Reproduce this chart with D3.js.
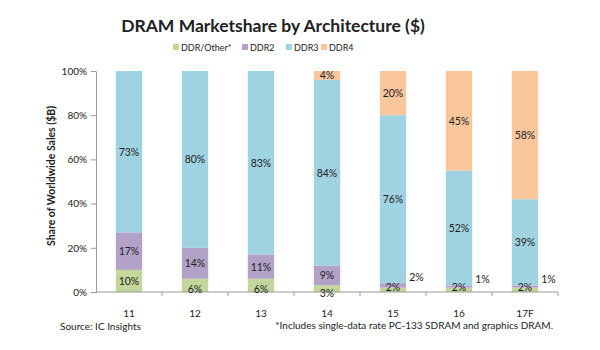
<!DOCTYPE html>
<html><head><meta charset="utf-8">
<script src="https://cdn.jsdelivr.net/npm/d3@7"></script>
<style>body{margin:0;background:#fff;} text{font-family:Lato,"Open Sans",sans-serif;fill:#222;}</style>
</head><body><svg width="600" height="350"></svg>
<script>
const categories = ["11","12","13","14","15","16","17F"];
const seriesNames = ["DDR/Other*","DDR2","DDR3","DDR4"];
const ddrOther = [10,6,6,3,2,2,2];
const ddr2 = [17,14,11,9,2,1,1];
const ddr3 = [73,80,83,84,76,52,39];
const ddr4 = [0,0,0,4,20,45,58];
const yTicks = [0,20,40,60,80,100];
const colors = ["#c3d69b","#b3a2c7","#a0d3e1","#fac79d"];

const svg = d3.select("svg");
const m = {l:96, r:42, t:71, b:58};
const W = 600, H = 350;
const x = d3.scaleBand().domain(categories).range([m.l, W-m.r]).paddingInner(0.6).paddingOuter(0.3);
const xb = d3.scaleBand().domain(categories).range([m.l, W-m.r]);
const y = d3.scaleLinear().domain([0,100]).range([H-m.b, m.t]);

const rows = categories.map((c,i)=>({cat:c, s0:ddrOther[i], s1:ddr2[i], s2:ddr3[i], s3:ddr4[i]}));
const stack = d3.stack().keys(["s0","s1","s2","s3"])(rows);

svg.append("text").attr("x",273).attr("y",32).attr("text-anchor","middle")
  .style("font-size","17.5px").style("font-weight","bold").text("DRAM Marketshare by Architecture ($)");

// legend
const legX = [173,242,286,321];
seriesNames.forEach((n,i)=>{
  const g = svg.append("g").attr("transform",`translate(${legX[i]},51)`);
  g.append("rect").attr("x",0).attr("y",-7).attr("width",6).attr("height",6).attr("fill",colors[i]);
  g.append("text").attr("x",8).attr("y",0).style("font-size","9px").text(n);
});

// bars
stack.forEach((layer,k)=>{
  svg.append("g").selectAll("rect").data(layer).join("rect")
    .attr("x",d=>x(d.data.cat)).attr("width",x.bandwidth())
    .attr("y",d=>y(d[1])).attr("height",d=>y(d[0])-y(d[1]))
    .attr("fill",colors[k]);
});

// y axis
const ya = svg.append("g").attr("transform",`translate(${m.l},0)`)
  .call(d3.axisLeft(y).tickValues(yTicks).tickFormat(d=>d+"%").tickSize(5).tickSizeOuter(0));
ya.select(".domain").attr("stroke","#999");
ya.selectAll(".tick line").attr("stroke","#999");
ya.selectAll(".tick text").style("font-size","10px").style("font-family","Lato,sans-serif").attr("fill","#222").attr("x",-9);

// x axis
const xa = svg.append("g").attr("transform",`translate(0,${H-m.b})`);
xa.append("line").attr("x1",m.l).attr("x2",W-m.r).attr("stroke","#999");
xa.selectAll("line.t").data(categories).join("line").attr("class","t")
  .attr("x1",d=>xb(d)+xb.bandwidth()).attr("x2",d=>xb(d)+xb.bandwidth()).attr("y1",0).attr("y2",4).attr("stroke","#999");
xa.selectAll("text").data(categories).join("text")
  .attr("x",d=>xb(d)+xb.bandwidth()/2).attr("y",25).attr("text-anchor","middle").style("font-size","10px").text(d=>d);

// labels
stack.forEach((layer,k)=>{
  layer.forEach(d=>{
    const v = d[1]-d[0];
    if(v<=0) return;
    let lx = x(d.data.cat)+x.bandwidth()/2, cy = (y(d[0])+y(d[1]))/2, anchor="middle";
    if(k===1 && v<=2){ lx = x(d.data.cat)+x.bandwidth()+3; anchor="start"; cy = y(d[1]) - 6; }
    if(k===0 && v<10){ cy = v>=6 ? y(0)-3 : v===3 ? y(0)+1 : y(0)-5; }
    svg.append("text").attr("x",lx).attr("y",cy+4).attr("text-anchor",anchor)
      .style("font-size","10.5px").text(v+"%");
  });
});

// y axis title
svg.append("text").attr("transform","translate(55,176) rotate(-90)").attr("text-anchor","middle")
  .style("font-size","10.5px").style("font-weight","bold").text("Share of Worldwide Sales ($B)");

svg.append("text").attr("x",60).attr("y",330).style("font-size","10px").text("Source:  IC Insights");
svg.append("text").attr("x",553).attr("y",329).attr("text-anchor","end").style("font-size","10px")
  .text("*Includes single-data rate PC-133 SDRAM and graphics DRAM.");
</script></body></html>
